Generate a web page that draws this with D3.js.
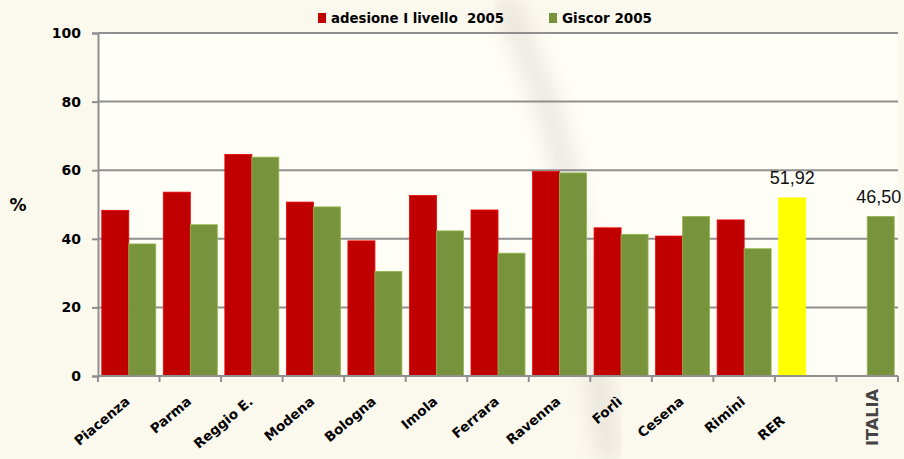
<!DOCTYPE html>
<html>
<head>
<meta charset="utf-8">
<script src="https://cdn.jsdelivr.net/npm/d3@7"></script>
<style>
  body { margin: 0; background: #fbf8ee; }
  svg { display: block; }
  .tick text { font-family: "Comic Sans MS", "DejaVu Sans", sans-serif; font-weight: bold; }
</style>
</head>
<body>
<div id="chart"></div>
<script>
// categories (13 slots: 11 province, RER, ITALIA)
var categories = ["Piacenza", "Parma", "Reggio E.", "Modena", "Bologna", "Imola", "Ferrara",
    "Ravenna", "Forlì", "Cesena", "Rimini", "RER", "ITALIA"];
var seriesNames = ["adesione I livello  2005", "Giscor 2005"];
// adesione I livello 2005 (red)
var adesione = [48.3, 53.6, 64.6, 50.7, 39.4, 52.6, 48.4, 59.6, 43.2, 40.8, 45.5, null, null];
// Giscor 2005 (green)
var giscor = [38.5, 44.1, 63.8, 49.3, 30.5, 42.3, 35.8, 59.2, 41.3, 46.5, 37.1, null, 46.50];
// regional total (yellow, in RER slot)
var rer = [null, null, null, null, null, null, null, null, null, null, null, 51.92, null];
var yTicks = [0, 20, 40, 60, 80, 100];

var width = 904, height = 459;
var margin = { top: 33, right: 6, bottom: 83, left: 98 };
var w = width - margin.left - margin.right;
var h = height - margin.top - margin.bottom;

var svg = d3.select("#chart").append("svg")
    .attr("width", width)
    .attr("height", height);

var defs = svg.append("defs");
defs.append("filter").attr("id", "blur").append("feGaussianBlur").attr("stdDeviation", 9);

// background + faint watermark
svg.append("rect").attr("width", width).attr("height", height).attr("fill", "#fbf8ee");
svg.append("rect")
    .attr("x", margin.left).attr("y", margin.top)
    .attr("width", w).attr("height", h)
    .attr("fill", "#fefdf6");
svg.append("path")
    .attr("d", "M505,0 C520,40 545,90 560,150 C575,220 585,300 610,459")
    .attr("fill", "none")
    .attr("stroke", "#cfc9c0")
    .attr("stroke-width", 26)
    .attr("opacity", 0.35)
    .attr("filter", "url(#blur)");

var g = svg.append("g")
    .attr("transform", "translate(" + margin.left + "," + margin.top + ")");

var x0 = d3.scaleBand().domain(categories).range([0, w]).paddingInner(0).paddingOuter(0);
var x1 = d3.scaleBand().domain([0, 1]).range([0, x0.bandwidth()]).paddingInner(0).paddingOuter(0.14);
var y = d3.scaleLinear().domain([0, 100]).range([h, 0]);

// gridlines
g.selectAll(".grid")
    .data(yTicks.filter(function (d) { return d > 0; }))
    .enter().append("line")
    .attr("x1", 0).attr("x2", w)
    .attr("y1", function (d) { return y(d); })
    .attr("y2", function (d) { return y(d); })
    .attr("stroke", "#8f8f8f")
    .attr("stroke-width", 2);

// bars
var rows = [];
categories.forEach(function (c, i) {
    if (adesione[i] != null) rows.push({ cat: c, pos: 0, v: adesione[i], color: "#c00000" });
    if (giscor[i] != null) rows.push({ cat: c, pos: 1, v: giscor[i], color: "#77933c" });
    if (rer[i] != null) rows.push({ cat: c, pos: 0, v: rer[i], color: "#ffff00" });
});

g.selectAll(".bar")
    .data(rows)
    .enter().append("rect")
    .attr("class", "bar")
    .attr("x", function (d) { return x0(d.cat) + x1(d.pos); })
    .attr("width", x1.bandwidth())
    .attr("y", function (d) { return y(d.v); })
    .attr("height", function (d) { return h - y(d.v); })
    .attr("fill", function (d) { return d.color; })
    .attr("stroke", function (d) { return d3.color(d.color).brighter(0.6); })
    .attr("stroke-width", 0.8);

// value labels for RER and ITALIA
var valueLabels = rows.filter(function (d) { return d.cat === "RER" || d.cat === "ITALIA"; });
g.selectAll(".vlabel")
    .data(valueLabels)
    .enter().append("text")
    .attr("x", function (d) { return x0(d.cat) + x1(d.pos) + x1.bandwidth() / 2 + (d.cat === "ITALIA" ? -2 : 0); })
    .attr("y", function (d) { return y(d.v) - 14; })
    .attr("text-anchor", "middle")
    .attr("font-family", "Liberation Sans, Arial, sans-serif")
    .attr("font-size", 18)
    .attr("fill", "#111")
    .text(function (d) { return d.v.toFixed(2).replace(".", ","); });

// y axis
var yAxis = d3.axisLeft(y).tickValues(yTicks).tickSize(6).tickPadding(11);
var yg = g.append("g").call(yAxis);
yg.select(".domain").attr("stroke", "#8f8f8f").attr("stroke-width", 2);
yg.selectAll(".tick line").attr("stroke", "#8f8f8f").attr("stroke-width", 2);
yg.selectAll(".tick text").attr("font-size", 14).attr("fill", "#000");

// x axis: ticks on slot boundaries
var bounds = categories.map(function (c) { return x0(c); }).concat([w]);
var xg = g.append("g").attr("transform", "translate(0," + h + ")");
xg.append("line").attr("x1", 0).attr("x2", w).attr("y1", 0).attr("y2", 0)
    .attr("stroke", "#8f8f8f").attr("stroke-width", 2);
xg.selectAll(".xt")
    .data(bounds)
    .enter().append("line")
    .attr("x1", function (d) { return d; }).attr("x2", function (d) { return d; })
    .attr("y1", 0).attr("y2", 6)
    .attr("stroke", "#8f8f8f").attr("stroke-width", 2);

// category labels
xg.selectAll(".xl")
    .data(categories.filter(function (c) { return c !== "ITALIA"; }))
    .enter().append("text")
    .attr("transform", function (c) {
        var cx = x0(c) + x0.bandwidth() / 2 + (c === "RER" ? -20 : 2);
        var cy = (c === "RER" ? 46 : 27);
        return "translate(" + cx + "," + cy + ") rotate(-40)";
    })
    .attr("text-anchor", "end")
    .attr("font-family", "\"Comic Sans MS\", \"DejaVu Sans\", sans-serif")
    .attr("font-weight", "bold")
    .attr("font-size", 13.5)
    .attr("fill", "#000")
    .text(function (c) { return c; });

xg.append("text")
    .attr("transform", "translate(" + (x0("ITALIA") + x0.bandwidth() / 2 + 11) + ",13) rotate(-90)")
    .attr("text-anchor", "end")
    .attr("font-family", "\"DejaVu Sans Condensed\", \"DejaVu Sans\", sans-serif")
    .attr("font-weight", "bold")
    .attr("font-size", 16)
    .attr("textLength", 57)
    .attr("lengthAdjust", "spacingAndGlyphs")
    .attr("fill", "#444")
    .text("ITALIA");

// % label
svg.append("text")
    .attr("x", 18).attr("y", 211)
    .attr("text-anchor", "middle")
    .attr("font-family", "\"Comic Sans MS\", \"DejaVu Sans\", sans-serif")
    .attr("font-weight", "bold")
    .attr("font-size", 17)
    .text("%");

// legend
var legend = [
    { name: seriesNames[0], color: "#c00000", x: 318, len: 173 },
    { name: seriesNames[1], color: "#77933c", x: 549, len: 90 }
];
var lg = svg.selectAll(".legend").data(legend).enter().append("g")
    .attr("transform", function (d) { return "translate(" + d.x + ",0)"; });
lg.append("rect").attr("x", 0).attr("y", 13).attr("width", 8).attr("height", 10)
    .attr("fill", function (d) { return d.color; });
lg.append("text")
    .attr("x", 13).attr("y", 23)
    .attr("font-family", "\"Comic Sans MS\", \"DejaVu Sans\", sans-serif")
    .attr("font-weight", "bold")
    .attr("font-size", 14)
    .attr("textLength", function (d) { return d.len; })
    .attr("lengthAdjust", "spacingAndGlyphs")
    .attr("xml:space", "preserve")
    .style("white-space", "pre")
    .text(function (d) { return d.name; });
</script>
</body>
</html>
